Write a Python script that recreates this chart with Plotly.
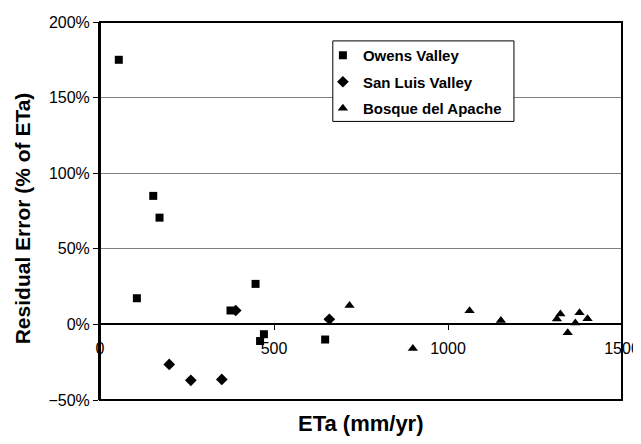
import plotly.graph_objects as go

# ---- data ----
owens_x = [54, 153, 171, 106, 375, 447, 471, 460, 647]
owens_y = [1.75, 0.85, 0.706, 0.173, 0.092, 0.268, -0.065, -0.11, -0.10]

sanluis_x = [390, 199, 261, 350, 659]
sanluis_y = [0.092, -0.265, -0.37, -0.364, 0.034]

bosque_x = [717, 899, 1062, 1152, 1313, 1323, 1344, 1366, 1378, 1401]
bosque_y = [0.125, -0.16, 0.09, 0.026, 0.036, 0.068, -0.055, 0.01, 0.077, 0.037]

series_names = ["Owens Valley", "San Luis Valley", "Bosque del Apache"]
x_ticks = [0, 500, 1000, 1500]
y_ticks = [-0.5, 0, 0.5, 1.0, 1.5, 2.0]

FONT = "Liberation Sans, Arial, sans-serif"

fig = go.Figure()
fig.add_trace(go.Scatter(x=owens_x, y=owens_y, mode="markers", name=series_names[0],
                         legendgroup="a",
                         marker=dict(symbol="square", size=8, color="black")))
fig.add_trace(go.Scatter(x=sanluis_x, y=sanluis_y, mode="markers", name=series_names[1],
                         legendgroup="b",
                         marker=dict(symbol="diamond", size=9, color="black")))
fig.add_trace(go.Scatter(x=bosque_x, y=bosque_y, mode="markers", name=series_names[2],
                         legendgroup="c",
                         marker=dict(symbol="triangle-up", size=9, color="black")))

fig.update_layout(
    width=633, height=436,
    margin=dict(l=92, r=19, t=14, b=44),
    paper_bgcolor="white", plot_bgcolor="white",
    font=dict(family=FONT, color="black", size=16),
    showlegend=True,
    legend=dict(x=0.427, y=0.955, xanchor="left", yanchor="top",
                bgcolor="rgba(0,0,0,0)", borderwidth=0,
                font=dict(family=FONT, size=15, weight="bold", color="black"),
                tracegroupgap=4),
    xaxis=dict(range=[0, 1500], tickvals=x_ticks, anchor="free", position=0.2,
               automargin=False,
               showline=True, linewidth=2, linecolor="black",
               ticks="outside", ticklen=5, tickwidth=1, tickcolor="black",
               ticklabelstandoff=4,
               showgrid=False, zeroline=False,
               tickfont=dict(family=FONT, size=16, color="black")),
    yaxis=dict(range=[-0.5, 2.0], tickvals=y_ticks, tickformat=".0%",
               automargin=False,
               showline=True, linewidth=2, linecolor="black",
               ticks="outside", ticklen=5, tickwidth=1, tickcolor="black",
               showgrid=True, gridcolor="#808080", gridwidth=1, zeroline=False,
               tickfont=dict(family=FONT, size=16, color="black")),
    shapes=[
        dict(type="rect", xref="paper", yref="paper", x0=0, x1=1, y0=0, y1=1,
             line=dict(color="black", width=2), layer="above"),
        dict(type="rect", xref="paper", yref="paper", x0=0.446, x1=0.793, y0=0.737, y1=0.95,
             line=dict(color="black", width=1), fillcolor="white", layer="above"),
    ],
    annotations=[
        dict(text="Residual Error (% of ETa)", xref="paper", yref="paper",
             x=-0.148, y=0.48, textangle=-90, showarrow=False,
             xanchor="center", yanchor="middle",
             font=dict(family=FONT, size=21, weight="bold", color="black")),
        dict(text="ETa (mm/yr)", xref="paper", yref="paper",
             x=0.5, y=-0.063, showarrow=False, xanchor="center", yanchor="middle",
             font=dict(family=FONT, size=22, weight="bold", color="black")),
    ],
)

fig.write_html("out.html")
